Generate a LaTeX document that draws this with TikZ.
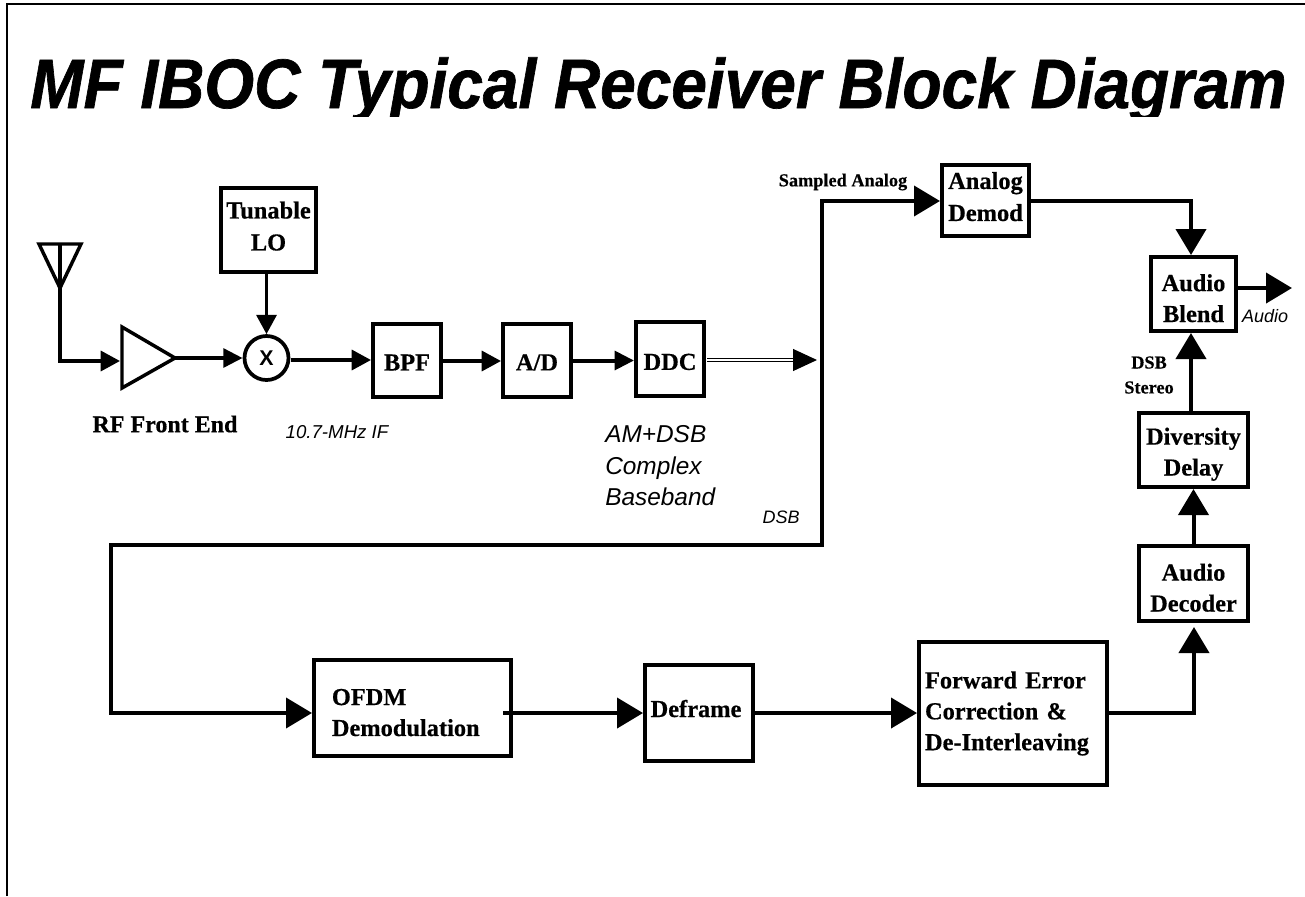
\documentclass[tikz,border=0pt]{standalone}
\usepackage{fontspec}
\setmainfont[BoldFeatures={FakeBold=0.5}]{Liberation Serif}
\setsansfont{Liberation Sans}
\newfontfamily\ttlfont[UprightFont={* Bold Italic},FakeBold=1]{Liberation Sans}
\usetikzlibrary{arrows.meta}
\tikzset{
  x=0.75pt,y=-0.75pt,
  blk/.style={draw,line width=2.8pt,fill=white,inner sep=0pt,align=center,font=\fontsize{18.3}{23.2}\selectfont\bfseries},
  conn/.style={line width=3pt,-{Triangle[length=19.5pt,width=22.5pt]}},
  smallc/.style={line width=3pt,-{Triangle[length=14.5pt,width=14pt]}},
  thinc/.style={line width=2.6pt,-{Triangle[length=14.5pt,width=15pt]}},
  lab/.style={inner sep=0pt,font=\sffamily\itshape\fontsize{13.5}{13.5}\selectfont},
  blab/.style={inner sep=0pt,align=center,font=\bfseries\fontsize{13.7}{18.7}\selectfont}
}
% outer corners x1 y1 x2 y2
\newcommand{\bx}[7][]{\node[blk,minimum width=#5*0.75pt-#3*0.75pt-2.8pt,minimum height=#6*0.75pt-#4*0.75pt-2.8pt,anchor=north west,#1] (#2) at (#3,#4) {#7};}
\newcommand{\dn}{\rule{0pt}{19pt}}
\begin{document}
\begin{tikzpicture}
\useasboundingbox (0,0) rectangle (1305,896);
\fill[white] (0,0) rectangle (1305,896);
\draw[line width=2.2pt] (7,896) -- (7,4) -- (1305,4);
\begin{scope}
\clip (0,40) rectangle (1305,116.5);
\node[inner sep=0pt,anchor=base west] (title) at (30,108) {\resizebox{942pt}{38pt}{\ttlfont MF IBOC Typical Receiver Block Diagram}};
\end{scope}
% blocks
\bx[font=\fontsize{18.3}{24}\selectfont\bfseries]{lo}{219}{186}{318}{274}{Tunable\\LO\rule[-6pt]{0pt}{0pt}}
\bx{bpf}{371}{322}{443}{399}{\rule{0pt}{15pt}BPF}
\bx{ad}{501}{322}{573}{399}{\rule{0pt}{15pt}A/D}
\bx{ddc}{634}{320}{706}{398}{\rule{0pt}{16.5pt}DDC}
\bx[font=\fontsize{18.3}{24}\selectfont\bfseries]{demod}{940}{163}{1031}{238}{Analog\\Demod\rule[-6pt]{0pt}{0pt}}
\bx{blend}{1149}{255}{1238}{333}{\dn Audio\\Blend}
\bx{div}{1137}{411}{1250}{489}{\dn Diversity\\Delay}
\bx{dec}{1137}{544}{1250}{623}{\dn Audio\\Decoder}
\bx[align=left,inner xsep=13.5pt,text width=121pt]{ofdm}{312}{658}{513}{758}{\dn OFDM\\Demodulation}
\bx{defr}{643}{663}{755}{763}{\rule[-7pt]{0pt}{20pt}Deframe\hspace{4.5pt}}
\bx[align=left,inner xsep=4.5pt,text width=132pt]{fec}{917}{640}{1109}{787}{Forward Error\\Correction \&\\De-Interleaving}
% antenna
\coordinate (anttop) at (60,244);
\coordinate (antfoot) at (60,288);
\coordinate (antcorner) at (60,361);
\draw[line width=2.6pt,line join=miter] (39,244) -- (81,244) -- (60,288) -- cycle;
\draw[line width=2.6pt] (anttop) -- (antfoot);
% amplifier
\coordinate (ampin) at (120,361);
\coordinate (ampout) at (175,358);
\draw[line width=2.6pt,line join=miter] (122,327) -- (175,358) -- (122,388) -- cycle;
% mixer
\node[draw,circle,line width=2.8pt,minimum size=33pt,inner sep=0pt,font=\sffamily\bfseries\fontsize{16}{16}\selectfont] (mix) at (266.5,358) {X};
% connectors
\draw[thinc] (antfoot) -- (antcorner) -- (ampin);
\draw[smallc] (ampout) -- (mix.west);
\draw[thinc] (lo.south -| mix.north) -- (mix.north);
\coordinate (mixout) at (291,360);
\draw[thinc] (mixout) -- (mixout -| bpf.west);
\coordinate (bpfout) at (439,361);
\draw[thinc] (bpfout) -- (bpfout -| ad.west);
\draw[smallc] (ad.east) -- (ad.east -| ddc.west);
% double line and head
\coordinate (tapin) at (817,360);
\draw[line width=1pt] (707,358.4) -- (795,358.4) (707,361.6) -- (795,361.6);
\draw[line width=0.8pt,-{Triangle[length=18pt,width=16.5pt]}] (793,360) -- (tapin);
\coordinate (c1) at (821.5,201);
\coordinate (c2) at (821.5,545);
\coordinate (c3) at (111,545);
\coordinate (c4) at (111,713);
\draw[conn,line join=miter] (c2) -- (c1) -- (c1 -| demod.west);
\draw[conn,line join=miter] (c1) -- (c2) -- (c3) -- (c4) -- (c4 -| ofdm.west);
\coordinate (turn) at (1191,201);
\draw[conn,line join=miter] (c1 -| demod.east) -- (turn) -- (turn |- blend.north);
\draw[conn] (div.north -| turn) -- (blend.south -| turn);
\draw[conn] (dec.north) -- (div.south);
\coordinate (fecturn) at (1194,713);
\coordinate (dectip) at (1194,627);
\draw[conn,line join=miter] (fecturn -| fec.east) -- (fecturn) -- (dectip);
\coordinate (ofdmout) at (503,713);
\draw[conn] (ofdmout) -- (ofdmout -| defr.west);
\draw[conn] (ofdmout -| defr.east) -- (ofdmout -| fec.west);
\coordinate (audioout) at (1292,288);
\draw[conn] (audioout -| blend.east) -- (audioout);
% labels
\node[inner sep=0pt,font=\bfseries\fontsize{18}{18}\selectfont] (rf) at (165,424) {RF Front End};
\node[lab,font=\sffamily\itshape\fontsize{14}{14}\selectfont] (ifl) at (337,432) {10.7-MHz IF};
\node[inner sep=0pt,align=left,anchor=north west,font=\sffamily\itshape\fontsize{18.3}{23.6}\selectfont] (bb) at (605,425.5) {AM+DSB\\Complex\\Baseband};
\node[lab] (dsb) at (781,517) {DSB};
\node[blab] (sa) at (843,182) {Sampled Analog};
\node[blab] (st) at (1149,375) {DSB\\Stereo};
\node[lab] (au) at (1265,316) {Audio};
\end{tikzpicture}
\end{document}
